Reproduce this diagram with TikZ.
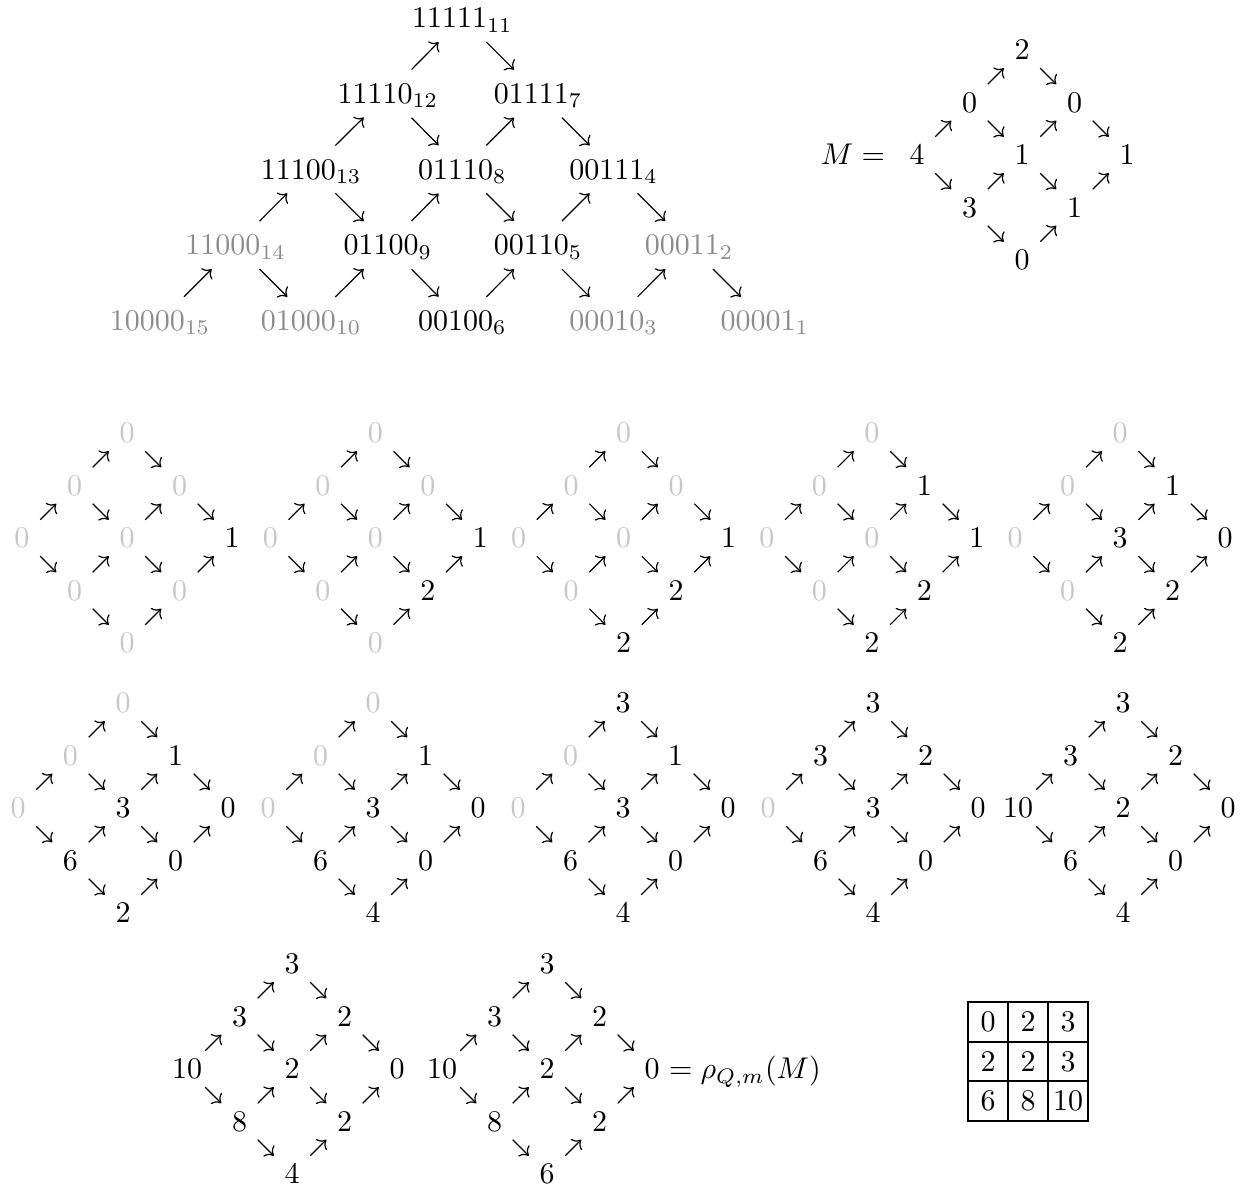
\documentclass[tikz,border=0pt]{standalone}
\usetikzlibrary{arrows.meta}
\definecolor{lgray}{gray}{0.78}
\definecolor{mgray}{gray}{0.55}
\newcommand\gz{\textcolor{lgray}{0}}
\newcommand\dnm{}
\newcommand\setdiam[1]{\renewcommand\dnm{#1}}
\newcommand\qdiam[9]{%
  \node[num] (\dnm-T) at (0,-105) {#1};
  \node[num] (\dnm-UL) at (-52.5,-52.5) {#2};
  \node[num] (\dnm-UR) at (52.5,-52.5) {#3};
  \node[num] (\dnm-L) at (-105,0) {#4};
  \node[num] (\dnm-C) at (0,0) {#5};
  \node[num] (\dnm-R) at (105,0) {#6};
  \node[num] (\dnm-LL) at (-52.5,52.5) {#7};
  \node[num] (\dnm-LR) at (52.5,52.5) {#8};
  \node[num] (\dnm-B) at (0,105) {#9};
  \foreach \a/\b in {L/UL,UL/T,T/UR,UR/R,L/LL,LL/B,B/LR,LR/R,UL/C,C/UR,LL/C,C/LR}
    \draw[sar] (\dnm-\a.center) -- (\dnm-\b.center);
}
\begin{document}
\begin{tikzpicture}[x=0.33333pt,y=-0.33333pt,
  num/.style={inner sep=0pt,text height=6.44pt,text depth=0pt},
  tri/.style={inner sep=0pt,text height=6.44pt,text depth=0pt},
  gtri/.style={tri,text=mgray},
  sar/.style={->,shorten <=8.6pt,shorten >=8.6pt},
  lar/.style={->,shorten <=11.3pt,shorten >=11.3pt},
  cell/.style={draw,line width=0.4pt,inner sep=0pt,minimum width=13.33pt,minimum height=13.33pt,text height=6.44pt,text depth=0pt}]
\useasboundingbox (0,0) rectangle (1243,1188);
% ---- top triangle ----
\node[tri]  (n11111) at (462.4,18)   {$11111_{11}$};
\node[tri]  (n11110) at (387.8,93.7) {$11110_{12}$};
\node[tri]  (n01111) at (538.0,93.7) {$01111_{7}$};
\node[tri]  (n11100) at (311.2,169.4) {$11100_{13}$};
\node[tri]  (n01110) at (462.4,169.4) {$01110_{8}$};
\node[tri]  (n00111) at (613.6,169.4) {$00111_{4}$};
\node[gtri] (n11000) at (235.6,245.1) {$11000_{14}$};
\node[tri]  (n01100) at (387.8,245.1) {$01100_{9}$};
\node[tri]  (n00110) at (538.0,245.1) {$00110_{5}$};
\node[gtri] (n00011) at (689.2,245.1) {$00011_{2}$};
\node[gtri] (n10000) at (160.0,320.8) {$10000_{15}$};
\node[gtri] (n01000) at (311.2,320.8) {$01000_{10}$};
\node[tri]  (n00100) at (462.4,320.8) {$00100_{6}$};
\node[gtri] (n00010) at (613.6,320.8) {$00010_{3}$};
\node[gtri] (n00001) at (764.8,320.8) {$00001_{1}$};
\foreach \a/\b in {10000/11000,11000/01000,01000/01100,01100/00100,00100/00110,00110/00010,00010/00011,00011/00001,
  11000/11100,11100/01100,01100/01110,01110/00110,00110/00111,00111/00011,
  11100/11110,11110/01110,01110/01111,01111/00111,
  11110/11111,11111/01111}
  \draw[lar] (n\a.center) -- (n\b.center);
% ---- M ----
\begin{scope}[shift={(1022,155)}]
\setdiam{M}\qdiam{2}{0}{0}{4}{1}{1}{3}{1}{0}
\end{scope}
\node[anchor=base east,inner sep=0pt] (Mlab) at ([xshift=-7.78pt]M-L.base west) {$M=$};
% ---- row 1 ----
\begin{scope}[shift={(127,538)}]
\setdiam{d1}\qdiam{\gz}{\gz}{\gz}{\gz}{\gz}{1}{\gz}{\gz}{\gz}
\end{scope}
\begin{scope}[shift={(375.3,538)}]
\setdiam{d2}\qdiam{\gz}{\gz}{\gz}{\gz}{\gz}{1}{\gz}{2}{\gz}
\end{scope}
\begin{scope}[shift={(623.6,538)}]
\setdiam{d3}\qdiam{\gz}{\gz}{\gz}{\gz}{\gz}{1}{\gz}{2}{2}
\end{scope}
\begin{scope}[shift={(871.9,538)}]
\setdiam{d4}\qdiam{\gz}{\gz}{1}{\gz}{\gz}{1}{\gz}{2}{2}
\end{scope}
\begin{scope}[shift={(1120.2,538)}]
\setdiam{d5}\qdiam{\gz}{\gz}{1}{\gz}{3}{0}{\gz}{2}{2}
\end{scope}
% ---- row 2 ----
\begin{scope}[shift={(123,808)}]
\setdiam{d6}\qdiam{\gz}{\gz}{1}{\gz}{3}{0}{6}{0}{2}
\end{scope}
\begin{scope}[shift={(373,808)}]
\setdiam{d7}\qdiam{\gz}{\gz}{1}{\gz}{3}{0}{6}{0}{4}
\end{scope}
\begin{scope}[shift={(623,808)}]
\setdiam{d8}\qdiam{3}{\gz}{1}{\gz}{3}{0}{6}{0}{4}
\end{scope}
\begin{scope}[shift={(873,808)}]
\setdiam{d9}\qdiam{3}{3}{2}{\gz}{3}{0}{6}{0}{4}
\end{scope}
\begin{scope}[shift={(1123,808)}]
\setdiam{d10}\qdiam{3}{3}{2}{10}{2}{0}{6}{0}{4}
\end{scope}
% ---- row 3 ----
\begin{scope}[shift={(292,1069)}]
\setdiam{d11}\qdiam{3}{3}{2}{10}{2}{0}{8}{2}{4}
\end{scope}
\begin{scope}[shift={(547,1069)}]
\setdiam{d12}\qdiam{3}{3}{2}{10}{2}{0}{8}{2}{6}
\end{scope}
\node[anchor=base west,inner sep=0pt] (rho) at ([xshift=2.78pt]d12-R.base east) {$=\rho_{Q,m}(M)$};
% ---- table ----
\node[cell] (t11) at (988,1022) {0};
\node[cell] (t12) at (1028,1022) {2};
\node[cell] (t13) at (1068,1022) {3};
\node[cell] (t21) at (988,1061.5) {2};
\node[cell] (t22) at (1028,1061.5) {2};
\node[cell] (t23) at (1068,1061.5) {3};
\node[cell] (t31) at (988,1101) {6};
\node[cell] (t32) at (1028,1101) {8};
\node[cell] (t33) at (1068,1101) {10};
\end{tikzpicture}
\end{document}
